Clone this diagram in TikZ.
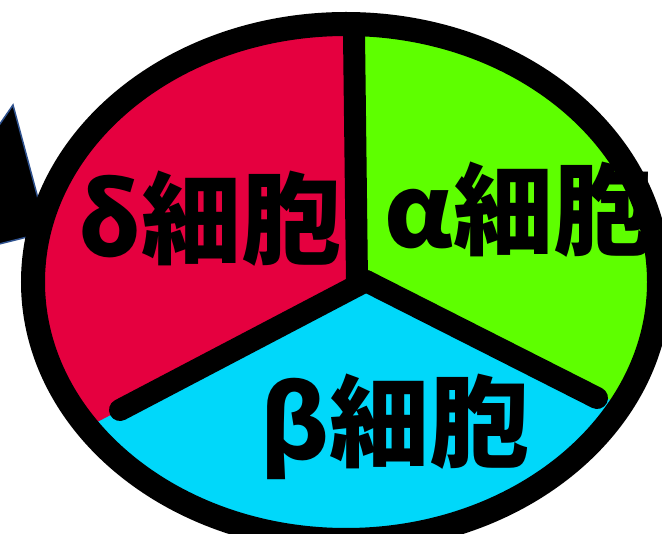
\documentclass[tikz,border=0pt]{standalone}
\usepackage{fontspec}
\newfontfamily\cjk{Noto Sans CJK JP}
\definecolor{deltared}{RGB}{229,0,63}
\definecolor{alphagreen}{RGB}{94,255,0}
\definecolor{betacyan}{RGB}{0,216,250}
\definecolor{tipblue}{RGB}{47,82,143}
\begin{document}
\begin{tikzpicture}[x=1pt, y=-1pt, spoke/.style={line width=22pt, line cap=round}, rim/.style={line width=24pt}, cell/.style={font=\cjk\bfseries\fontsize{100}{100}\selectfont, inner sep=0pt, anchor=base}]%
\useasboundingbox (0,0) rectangle (662,534);
\begin{scope}
\clip (0,0) rectangle (662,534);
% arrow tip, left
\draw[fill=black, draw=tipblue, line width=1.5pt] (13,105) -- (47,232) -- (-100,269) -- cycle;
% the three parts
\begin{scope}
\clip (346,282) ellipse [x radius=313pt, y radius=258pt];
\fill[betacyan] (-200,-50) rectangle (900,700);
\fill[deltared] (366,281) -- (356,281) -- (356,-50) -- (-200,-50) -- (-200,578) -- cycle;
\fill[alphagreen] (366,281) -- (356,281) -- (356,-50) -- (900,-50) -- (900,541) -- cycle;
\end{scope}
\coordinate (hub) at (366,281);
\coordinate (stem) at (357,281);
\coordinate (top) at (354,34);
\coordinate (left end) at (120,410);
\coordinate (right end) at (597,398);
\draw[spoke] (stem) -- (top);
\draw[spoke] (hub) -- (left end);
\draw[spoke] (hub) -- (right end);
\node[cell] (delta) at (210,257) {δ細胞};
\node[cell] (alpha) at (519,248) {α細胞};
\node[cell] (beta) at (395,460) {β細胞};
%\node[cell] () at (,) {};
\draw[rim] (346,282) ellipse [x radius=313pt, y radius=258pt];
\end{scope}
\end{tikzpicture}
\end{document}
